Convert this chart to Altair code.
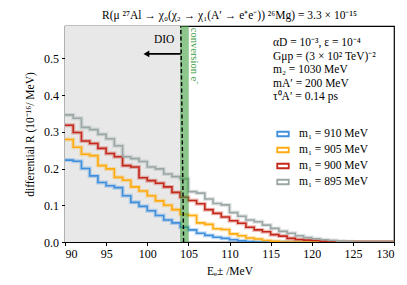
import altair as alt
import pandas as pd

# ---- data ----
bin_start = 90
x_end = 130
series_names = ["m\u2081 = 910 MeV", "m\u2081 = 905 MeV", "m\u2081 = 900 MeV", "m\u2081 = 895 MeV"]
colors = ["#3f8fdc", "#ffab0f", "#c3281a", "#9aa7a5"]
blue = [0.223, 0.220, 0.200, 0.180, 0.162, 0.153, 0.148, 0.126, 0.108, 0.097, 0.085, 0.072,
        0.060, 0.052, 0.040, 0.033, 0.024, 0.018, 0.013, 0.010, 0.006, 0.003, 0.001]
orange = [0.279, 0.258, 0.239, 0.235, 0.208, 0.199, 0.176, 0.168, 0.150, 0.139, 0.126, 0.112,
          0.100, 0.088, 0.075, 0.072, 0.052, 0.048, 0.036, 0.034, 0.022, 0.017, 0.011, 0.008,
          0.004, 0.002]
red = [0.318, 0.298, 0.275, 0.268, 0.255, 0.241, 0.232, 0.208, 0.204, 0.175, 0.167, 0.160,
       0.150, 0.135, 0.122, 0.113, 0.104, 0.088, 0.078, 0.068, 0.058, 0.051, 0.040, 0.033,
       0.028, 0.020, 0.016, 0.010, 0.007, 0.005, 0.004, 0.002, 0.001]
grey = [0.346, 0.337, 0.312, 0.306, 0.293, 0.281, 0.262, 0.232, 0.227, 0.219, 0.204, 0.199,
        0.185, 0.178, 0.172, 0.137, 0.133, 0.117, 0.105, 0.101, 0.080, 0.070, 0.060, 0.055,
        0.046, 0.037, 0.029, 0.024, 0.017, 0.012, 0.009, 0.006, 0.004, 0.002, 0.001]
all_series = [blue, orange, red, grey]

x_ticks = [90, 95, 100, 105, 110, 115, 120, 125, 130]
y_ticks = [0.0, 0.1, 0.2, 0.3, 0.4, 0.5]
x_domain = [90, 130]
y_domain = [0, 0.588]

dio_edge = 104.2
dashed_bottom = 104.42
dashed_top = 104.08
conv_lo, conv_hi = 104.0, 105.05
arrow_from, arrow_to, arrow_y = 104.05, 99.4, 0.512

title_text = "R(\u03bc \u00b2\u2077Al \u2192 \u03c7\u2080(\u03c7\u2082 \u2192 \u03c7\u2081(A\u2032 \u2192 e\u207ae\u207b)) \u00b2\u2076Mg) = 3.3 \u00d7 10\u207b\u00b9\u2075"
x_title = "E\u2091\u00b1 /MeV"
y_title = "differential R (10\u207b\u00b9\u2076/ MeV)"
param_lines = ["\u03b1D = 10\u207b\u00b3, \u03b5 = 10\u207b\u2074",
               "G\u03bcp = (3 \u00d7 10\u00b2  TeV)\u207b\u00b2",
               "m\u2082 = 1030 MeV",
               "mA\u2032 = 200 MeV",
               "\u03c4\u2070A\u2032 = 0.14 ps"]

# ---- build table ----
rows = []
for name, vals in zip(series_names, all_series):
    for i, v in enumerate(vals):
        rows.append({"series": name, "x": bin_start + i, "y": v})
    for xx in range(bin_start + len(vals), x_end + 1):
        rows.append({"series": name, "x": xx, "y": 0.0})
df = pd.DataFrame(rows)
order_map = {n: i for i, n in enumerate(series_names)}
df["ord"] = df["series"].map(order_map)

FONT = "Liberation Serif"
xs = alt.Scale(domain=x_domain, nice=False, zero=False)
ys = alt.Scale(domain=y_domain, nice=False)
x_axis = alt.Axis(values=x_ticks, format="d", grid=False, domain=False, tickColor="black",
                  labelFont=FONT, titleFont=FONT)
y_axis = alt.Axis(values=y_ticks, format=".1f", grid=False, domain=False, tickColor="black",
                  labelFont=FONT, titleFont=FONT)


def X(field="x"):
    return alt.X(f"{field}:Q", scale=xs, axis=x_axis, title=x_title)


def Y(field="y"):
    return alt.Y(f"{field}:Q", scale=ys, axis=y_axis, title=y_title)


color_scale = alt.Scale(domain=series_names, range=colors)
legend = alt.Legend(title=None, orient="none", legendX=212, legendY=102,
                    symbolType="M-1.15,-0.45H1.15V0.45H-1.15Z",
                    symbolSize=100, symbolStrokeWidth=1.8, symbolOpacity=1,
                    symbolFillColor="white", labelFont=FONT,
                    labelFontSize=11.5, labelOffset=10, rowPadding=4)

dio_df = pd.DataFrame({"x": [x_domain[0]], "x2": [dio_edge], "y": [y_domain[0]], "y2": [y_domain[1]]})
shade = alt.Chart(dio_df).mark_rect(color="#e8e8e8").encode(x=X(), x2="x2", y=Y(), y2="y2")

halo = alt.Chart(df).mark_line(interpolate="step-after", strokeWidth=4, opacity=0.3, clip=True).encode(
    x=X(), y=Y(),
    color=alt.Color("series:N", scale=color_scale, sort=series_names, legend=legend),
    order="ord:O", detail="series:N")

lines = alt.Chart(df).mark_line(interpolate="step-after", strokeWidth=1.6, clip=True).encode(
    x=X(), y=Y(),
    color=alt.Color("series:N", scale=color_scale, sort=series_names, legend=legend),
    order="ord:O")

conv_df = pd.DataFrame({"x": [conv_lo], "x2": [conv_hi], "y": [y_domain[0]], "y2": [y_domain[1]]})
band = alt.Chart(conv_df).mark_rect(color="#3a9e3a", opacity=0.58).encode(
    x=X(), x2="x2", y=Y(), y2="y2")

dash_df = pd.DataFrame({"x": [dashed_bottom], "x2": [dashed_top], "y": [y_domain[0]], "y2": [y_domain[1]]})
dashed = alt.Chart(dash_df).mark_rule(color="black", strokeWidth=1.4, strokeDash=[4, 2.5]).encode(
    x=X(), x2="x2", y=Y(), y2="y2")

arrow_df = pd.DataFrame({"x": [arrow_from], "x2": [arrow_to + 0.6], "y": [arrow_y], "y2": [arrow_y]})
arrow_line = alt.Chart(arrow_df).mark_rule(color="black", strokeWidth=1.6).encode(
    x=X(), x2="x2", y=Y(), y2="y2")
head_df = pd.DataFrame({"x": [arrow_to + 0.5], "y": [arrow_y]})
arrow_head = alt.Chart(head_df).mark_point(shape="triangle-left", filled=True, color="black",
                                           size=45, opacity=1).encode(x=X(), y=Y())

dio_txt_df = pd.DataFrame({"x": [102.05], "y": [0.535], "t": ["DIO"]})
dio_txt = alt.Chart(dio_txt_df).mark_text(font=FONT, fontSize=11.5, color="black",
                                          baseline="bottom").encode(x=X(), y=Y(), text="t:N")

conv_txt_df = pd.DataFrame({"x": [conv_hi + 0.05], "y": [0.583], "t": ["conversion e\u207b"]})
conv_txt = alt.Chart(conv_txt_df).mark_text(font=FONT, fontSize=10.5, color="#3c9a3c",
                                            angle=90, align="left", baseline="bottom").encode(
    x=X(), y=Y(), text="t:N")

param_layers = []
for i, line in enumerate(param_lines):
    pdf = pd.DataFrame({"t": [line]})
    param_layers.append(
        alt.Chart(pdf).mark_text(font=FONT, fontSize=11.5, color="black", align="left",
                                 baseline="middle").encode(
            x=alt.value(208), y=alt.value(17 + 13.6 * i), text="t:N"))

chart = alt.layer(shade, halo, lines, band, dashed, arrow_line, arrow_head, dio_txt, conv_txt,
                  *param_layers).properties(
    width=329, height=216,
    title=alt.TitleParams(title_text, font=FONT, fontSize=11.5, fontWeight="normal", offset=4),
    padding={"left": 57, "top": 18, "right": 5, "bottom": 35},
    autosize="none",
).configure_view(stroke="black", strokeWidth=1.2).configure_axis(
    labelFontSize=12, titleFontSize=11.5, labelColor="black", titleColor="black",
    tickSize=3.5, tickWidth=1, labelPadding=3, titleFontWeight="normal"
).configure_axisY(titlePadding=8).configure_axisX(titlePadding=6)

chart.save("out.html", embed_options={"renderer": "svg", "actions": False})
